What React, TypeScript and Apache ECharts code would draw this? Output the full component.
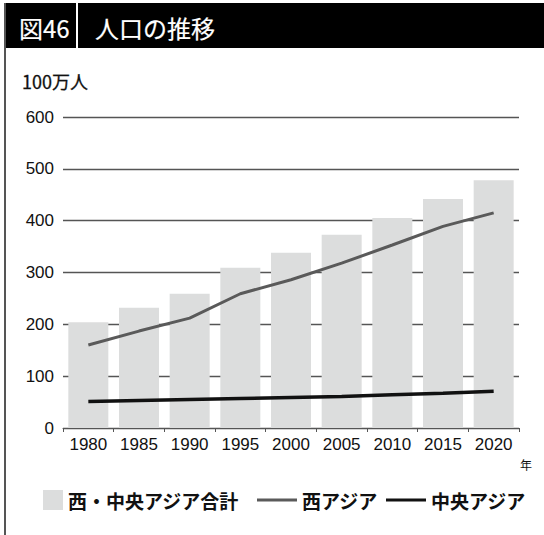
import React, { useEffect, useRef } from "react";
import * as echarts from "echarts";

const years = ["1980", "1985", "1990", "1995", "2000", "2005", "2010", "2015", "2020"];
const totalWestCentral = [204, 232, 259, 309, 338, 373, 405, 442, 478];
const westAsia = [160, 187, 212, 259, 286, 318, 353, 389, 415];
const centralAsia = [51, 53, 55, 57, 59, 61, 64, 67, 71];
const yTicks = { min: 0, max: 600, interval: 100 };

const FONT = "Liberation Sans, Noto Sans CJK JP, sans-serif";
const JFONT = "Noto Sans CJK JP, Liberation Sans, sans-serif";

export default function App() {
  const ref = useRef<HTMLDivElement>(null);
  useEffect(() => {
    if (!ref.current) return;
    const chart = echarts.init(ref.current, null, { renderer: "svg" });
    const legendText = { fontSize: 19, fontWeight: "bold", color: "#111", fontFamily: JFONT, lineHeight: 20 };
    chart.setOption({
      animation: false,
      backgroundColor: "#ffffff",
      grid: { left: 63, right: 25, top: 117, bottom: 107, containLabel: false },
      xAxis: {
        type: "category",
        data: years,
        boundaryGap: true,
        axisLine: { show: true, lineStyle: { color: "#555", width: 1 } },
        axisTick: { show: true, alignWithLabel: false, length: 4, lineStyle: { color: "#555" } },
        axisLabel: { color: "#111", fontSize: 17, fontFamily: FONT, margin: 8 },
      },
      yAxis: {
        type: "value",
        min: yTicks.min,
        max: yTicks.max,
        interval: yTicks.interval,
        axisLine: { show: false },
        axisTick: { show: false },
        axisLabel: { color: "#111", fontSize: 17, fontFamily: FONT, margin: 9 },
        splitLine: { show: true, lineStyle: { color: "#555", width: 1.3 } },
      },
      legend: [
        {
          data: ["西・中央アジア合計"],
          left: 43,
          top: 490,
          padding: 0,
          itemWidth: 20,
          itemHeight: 20,
          itemGap: 12,
          icon: "rect",
          textStyle: legendText,
        },
        {
          data: [
            { name: "西アジア", icon: "rect", itemStyle: { color: "#5a5a5a" } },
            { name: "中央アジア", icon: "rect", itemStyle: { color: "#111" } },
          ],
          left: 257,
          top: 490,
          padding: 0,
          itemWidth: 40,
          itemHeight: 3,
          itemGap: 8,
          textStyle: legendText,
        },
      ],
      series: [
        {
          name: "西・中央アジア合計",
          type: "bar",
          data: totalWestCentral,
          barWidth: 40,
          itemStyle: { color: "#dcdddd" },
          z: 2,
        },
        {
          name: "西アジア",
          type: "line",
          data: westAsia,
          symbol: "none",
          lineStyle: { color: "#5a5a5a", width: 3 },
          itemStyle: { color: "#5a5a5a" },
          z: 3,
        },
        {
          name: "中央アジア",
          type: "line",
          data: centralAsia,
          symbol: "none",
          lineStyle: { color: "#111", width: 3.5 },
          itemStyle: { color: "#111" },
          z: 3,
        },
      ],
      graphic: [
        { type: "rect", shape: { x: 5, y: 3, width: 539, height: 45 }, style: { fill: "#000" } },
        { type: "line", shape: { x1: 5, y1: 3, x2: 5, y2: 535 }, style: { stroke: "#555", lineWidth: 2 } },
        {
          type: "text",
          x: 19,
          y: 27,
          style: {
            text: "図46",
            fill: "#fff",
            stroke: "#fff",
            lineWidth: 0.2,
            font: `normal 24px ${JFONT}`,
            verticalAlign: "middle",
          },
        },
        { type: "line", shape: { x1: 77, y1: 3, x2: 77, y2: 48 }, style: { stroke: "#fff", lineWidth: 2 } },
        {
          type: "text",
          x: 95,
          y: 27,
          style: {
            text: "人口の推移",
            fill: "#fff",
            stroke: "#fff",
            lineWidth: 0.2,
            font: `normal 24px ${JFONT}`,
            verticalAlign: "middle",
          },
        },
        {
          type: "text",
          x: 22,
          y: 81,
          style: {
            text: "100万人",
            fill: "#111",
            stroke: "#111",
            lineWidth: 0.3,
            font: `normal 18px ${JFONT}`,
            verticalAlign: "middle",
          },
        },
        {
          type: "text",
          x: 520,
          y: 464,
          style: { text: "年", fill: "#111", font: `12px ${JFONT}`, verticalAlign: "middle" },
        },
      ],
    });
    return () => chart.dispose();
  }, []);
  return (
    <div
      ref={ref}
      style={{ position: "fixed", left: 0, top: 0, width: 544, height: 535, background: "#fff" }}
    />
  );
}
